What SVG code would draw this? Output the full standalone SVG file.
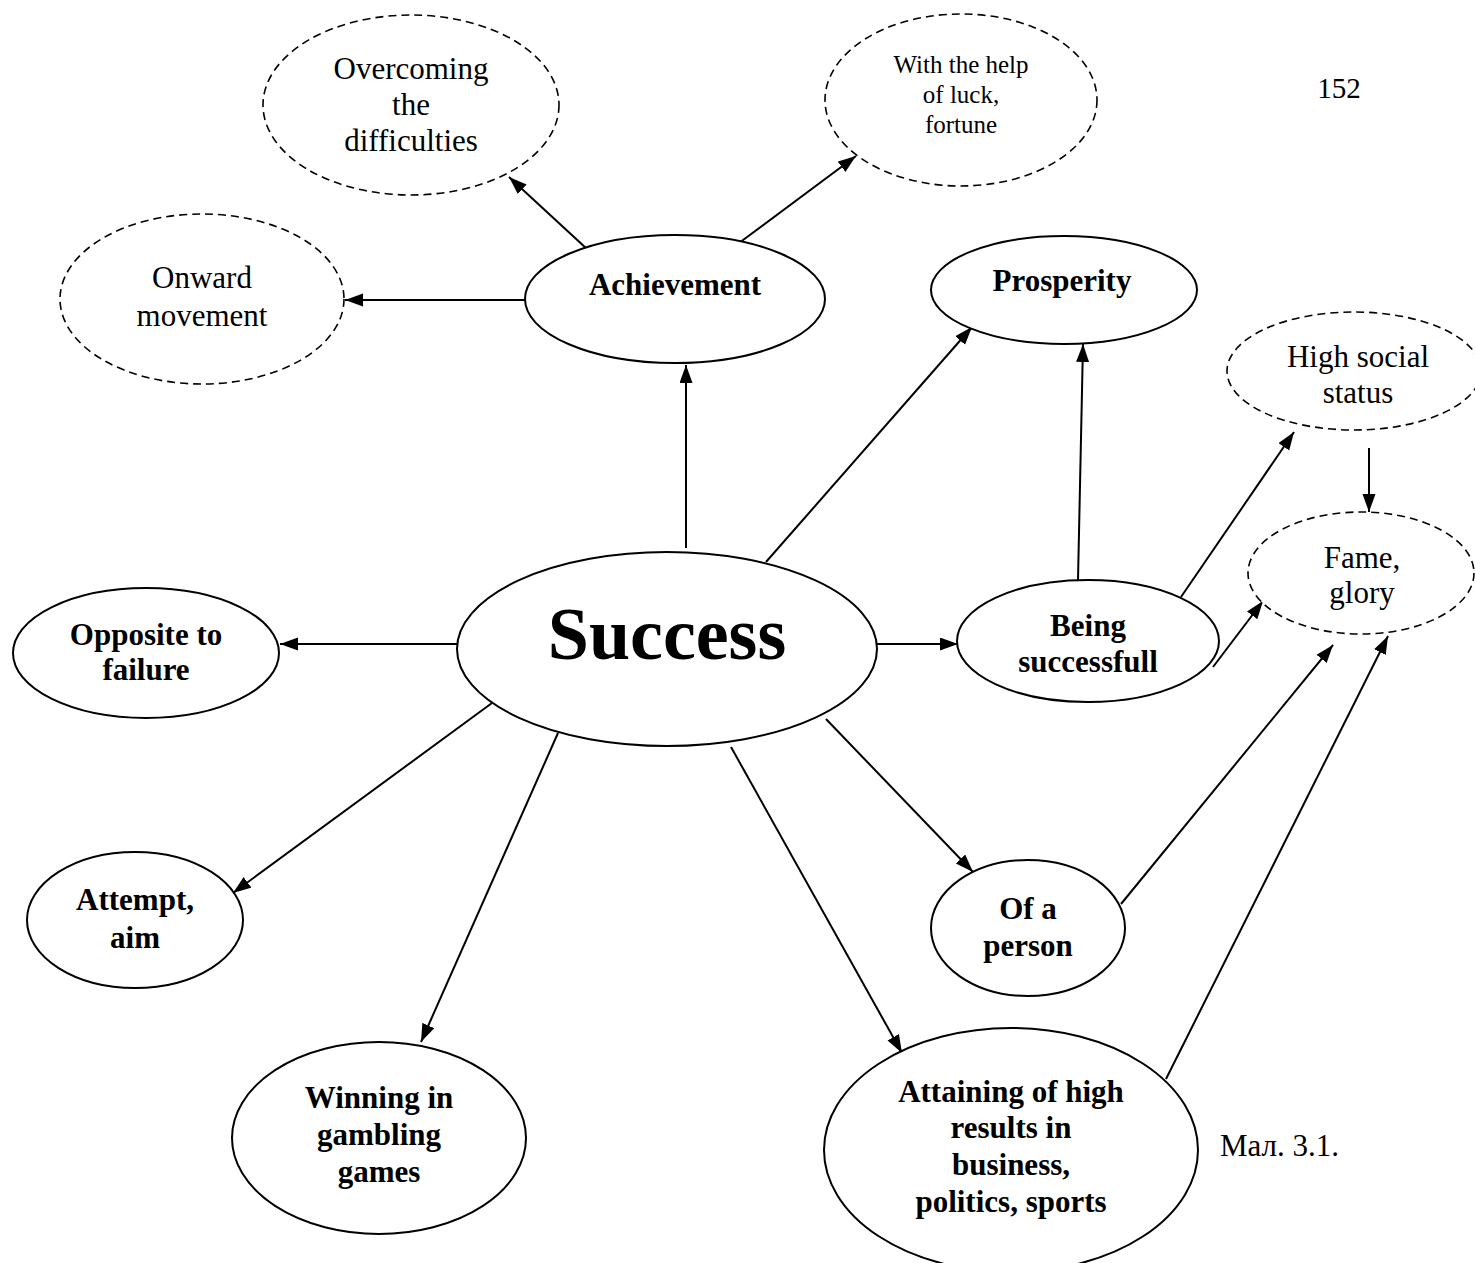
<svg xmlns="http://www.w3.org/2000/svg" width="1475" height="1263" viewBox="0 0 1475 1263">
<defs>
<marker id="ah" markerUnits="userSpaceOnUse" markerWidth="20" markerHeight="14" refX="18" refY="6.5" orient="auto">
<path d="M0,0 L18,6.5 L0,13 z" fill="#000"/>
</marker>
<style>
.solid{fill:#fff;stroke:#000;stroke-width:2}
.dash{fill:#fff;stroke:#000;stroke-width:1.6;stroke-dasharray:8 5}
.b{font-family:"Liberation Serif","Times New Roman",serif;font-weight:bold;font-size:31px;text-anchor:middle;fill:#000}
.r{font-family:"Liberation Serif","Times New Roman",serif;font-size:31px;text-anchor:middle;fill:#000}
.c{stroke:#000;stroke-width:2;fill:none;marker-end:url(#ah)}
</style>
</defs>
<rect width="1475" height="1263" fill="#fff"/>
<g id="connectors">
<line class="c" x1="686" y1="548" x2="686" y2="365"/>
<line class="c" x1="587" y1="249" x2="509" y2="177"/>
<line class="c" x1="739" y1="243" x2="856" y2="156"/>
<line class="c" x1="525" y1="300" x2="345" y2="300"/>
<line class="c" x1="766" y1="562" x2="972" y2="327"/>
<line class="c" x1="1078" y1="580" x2="1083" y2="344"/>
<line class="c" x1="1181" y1="597" x2="1294" y2="432"/>
<line class="c" x1="1213" y1="667" x2="1263" y2="601"/>
<line class="c" x1="1369" y1="448" x2="1369" y2="512"/>
<line class="c" x1="877" y1="644" x2="958" y2="644"/>
<line class="c" x1="457" y1="644" x2="280" y2="644"/>
<line class="c" x1="492" y1="703" x2="233" y2="893"/>
<line class="c" x1="558" y1="733" x2="421" y2="1042"/>
<line class="c" x1="731" y1="747" x2="902" y2="1053"/>
<line class="c" x1="826" y1="719" x2="973" y2="872"/>
<line class="c" x1="1121" y1="904" x2="1333" y2="645"/>
<line class="c" x1="1166" y1="1079" x2="1388" y2="636"/>
</g>
<g id="overcoming">
<ellipse class="dash" cx="411" cy="105" rx="148" ry="90"/>
<text class="r" x="411" y="79">Overcoming</text>
<text class="r" x="411" y="115">the</text>
<text class="r" x="411" y="151">difficulties</text>
</g>
<g id="luck">
<ellipse class="dash" cx="961" cy="100" rx="136" ry="86"/>
<text class="r" x="961" y="73" style="font-size:25px">With the help</text>
<text class="r" x="961" y="103" style="font-size:25px">of luck,</text>
<text class="r" x="961" y="133" style="font-size:25px">fortune</text>
</g>
<g id="page">
<text class="r" x="1339" y="98" style="font-size:29px">152</text>
</g>
<g id="onward">
<ellipse class="dash" cx="202" cy="299" rx="142" ry="85"/>
<text class="r" x="202" y="288">Onward</text>
<text class="r" x="202" y="326">movement</text>
</g>
<g id="achievement">
<ellipse class="solid" cx="675" cy="299" rx="150" ry="64"/>
<text class="b" x="675" y="295">Achievement</text>
</g>
<g id="prosperity">
<ellipse class="solid" cx="1064" cy="290" rx="133" ry="54"/>
<text class="b" x="1062" y="291">Prosperity</text>
</g>
<g id="highstatus">
<ellipse class="dash" cx="1354" cy="371" rx="127" ry="59"/>
<text class="r" x="1358" y="367">High social</text>
<text class="r" x="1358" y="403">status</text>
</g>
<g id="fame">
<ellipse class="dash" cx="1361" cy="573" rx="113" ry="61"/>
<text class="r" x="1362" y="568">Fame,</text>
<text class="r" x="1362" y="603">glory</text>
</g>
<g id="success">
<ellipse class="solid" cx="667" cy="649" rx="210" ry="97"/>
<text class="b" x="667" y="659" style="font-size:74px">Success</text>
</g>
<g id="being">
<ellipse class="solid" cx="1088" cy="641" rx="131" ry="61"/>
<text class="b" x="1088" y="636">Being</text>
<text class="b" x="1088" y="672">successfull</text>
</g>
<g id="opposite">
<ellipse class="solid" cx="146" cy="653" rx="133" ry="65"/>
<text class="b" x="146" y="645">Opposite to</text>
<text class="b" x="146" y="680">failure</text>
</g>
<g id="attempt">
<ellipse class="solid" cx="135" cy="920" rx="108" ry="68"/>
<text class="b" x="135" y="910">Attempt,</text>
<text class="b" x="135" y="948">aim</text>
</g>
<g id="person">
<ellipse class="solid" cx="1028" cy="928" rx="97" ry="68"/>
<text class="b" x="1028" y="919">Of a</text>
<text class="b" x="1028" y="956">person</text>
</g>
<g id="winning">
<ellipse class="solid" cx="379" cy="1138" rx="147" ry="96"/>
<text class="b" x="379" y="1108">Winning in</text>
<text class="b" x="379" y="1145">gambling</text>
<text class="b" x="379" y="1182">games</text>
</g>
<g id="attaining">
<ellipse class="solid" cx="1011" cy="1150" rx="187" ry="122"/>
<text class="b" x="1011" y="1102">Attaining of high</text>
<text class="b" x="1011" y="1138">results in</text>
<text class="b" x="1011" y="1175">business,</text>
<text class="b" x="1011" y="1212">politics, sports</text>
</g>
<g id="caption">
<text x="1220" y="1156" style="font-family:'Liberation Serif','Times New Roman',serif;font-size:31px;fill:#000">Мал. 3.1.</text>
</g>
</svg>
